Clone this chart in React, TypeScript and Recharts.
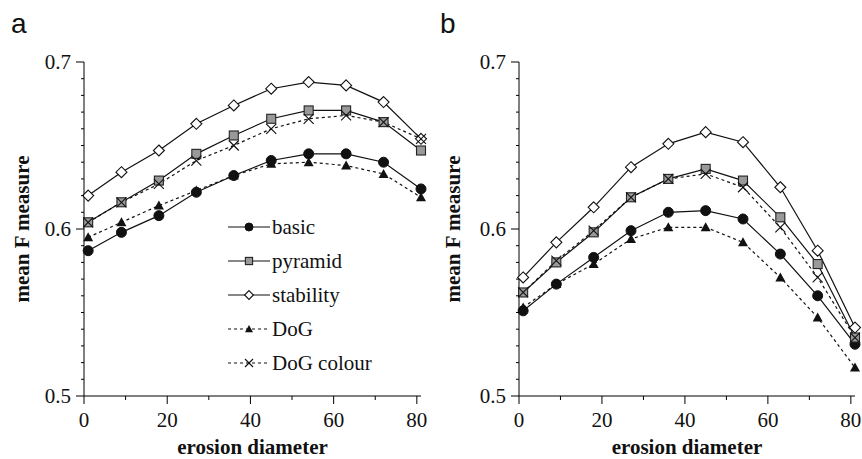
import { Legend, Line, LineChart, XAxis, YAxis } from "recharts";

// erosion diameter sampled at these points
const EROSION = [1, 9, 18, 27, 36, 45, 54, 63, 72, 81];

// panel a
const A_BASIC = [0.587, 0.598, 0.608, 0.622, 0.632, 0.641, 0.645, 0.645, 0.64, 0.624];
const A_PYRAMID = [0.604, 0.616, 0.629, 0.645, 0.656, 0.666, 0.671, 0.671, 0.664, 0.647];
const A_STABILITY = [0.62, 0.634, 0.647, 0.663, 0.674, 0.684, 0.688, 0.686, 0.676, 0.654];
const A_DOG = [0.595, 0.604, 0.614, 0.623, 0.632, 0.639, 0.64, 0.638, 0.633, 0.619];
const A_DOG_COLOUR = [0.604, 0.616, 0.627, 0.641, 0.65, 0.66, 0.666, 0.668, 0.664, 0.654];

// panel b
const B_BASIC = [0.551, 0.567, 0.583, 0.599, 0.61, 0.611, 0.606, 0.585, 0.56, 0.531];
const B_PYRAMID = [0.562, 0.58, 0.598, 0.619, 0.63, 0.636, 0.629, 0.607, 0.579, 0.535];
const B_STABILITY = [0.571, 0.592, 0.613, 0.637, 0.651, 0.658, 0.652, 0.625, 0.587, 0.541];
const B_DOG = [0.553, 0.567, 0.579, 0.594, 0.601, 0.601, 0.592, 0.571, 0.547, 0.517];
const B_DOG_COLOUR = [0.562, 0.581, 0.599, 0.619, 0.63, 0.633, 0.625, 0.601, 0.571, 0.535];

const SERIES_NAMES = ["basic", "pyramid", "stability", "DoG", "DoG colour"];

const X_TICKS = [0, 10, 20, 30, 40, 50, 60, 70, 80];
const Y_TICKS = [
  0.5, 0.51, 0.52, 0.53, 0.54, 0.55, 0.56, 0.57, 0.58, 0.59, 0.6, 0.61, 0.62, 0.63, 0.64, 0.65, 0.66,
  0.67, 0.68, 0.69, 0.7,
];

const SERIF = "Liberation Serif, serif";
const SANS = "Liberation Sans, sans-serif";
const FS = 21;

type Shape = "circle" | "square" | "diamond" | "triangle" | "cross";

const STYLE: Record<string, { shape: Shape; dashed: boolean }> = {
  basic: { shape: "circle", dashed: false },
  pyramid: { shape: "square", dashed: false },
  stability: { shape: "diamond", dashed: false },
  DoG: { shape: "triangle", dashed: true },
  "DoG colour": { shape: "cross", dashed: true },
};

function Marker({ shape, cx, cy, s }: { shape: Shape; cx: number; cy: number; s: number }) {
  if (shape === "circle") return <circle cx={cx} cy={cy} r={s * 0.5} fill="#111" stroke="#111" />;
  if (shape === "square")
    return <rect x={cx - s * 0.45} y={cy - s * 0.45} width={s * 0.9} height={s * 0.9} fill="#999" stroke="#222" strokeWidth={1.1} />;
  if (shape === "diamond") {
    const h = s * 0.55;
    return (
      <polygon
        points={`${cx},${cy - h} ${cx + h},${cy} ${cx},${cy + h} ${cx - h},${cy}`}
        fill="#fff"
        stroke="#111"
        strokeWidth={1.1}
      />
    );
  }
  if (shape === "triangle") {
    const h = s * 0.5;
    return <polygon points={`${cx},${cy - h} ${cx + h},${cy + h * 0.8} ${cx - h},${cy + h * 0.8}`} fill="#111" />;
  }
  const h = s * 0.5;
  return (
    <g stroke="#111" strokeWidth={1.1}>
      <line x1={cx - h} y1={cy - h} x2={cx + h} y2={cy + h} />
      <line x1={cx - h} y1={cy + h} x2={cx + h} y2={cy - h} />
    </g>
  );
}

const makeDot = (shape: Shape) => (p: any) => {
  if (p.cx == null || p.cy == null) return <g key={p.index} />;
  return (
    <g key={p.index}>
      <Marker shape={shape} cx={p.cx} cy={p.cy} s={10} />
    </g>
  );
};

function XTick({ x, y, payload }: any) {
  const v = payload.value;
  const major = v % 20 === 0;
  return (
    <g>
      <line x1={x} x2={x} y1={y} y2={y + (major ? 8 : 4)} stroke="#000" />
      {major && (
        <text x={x} y={y + 31} textAnchor="middle" fontFamily={SERIF} fontSize={FS} fill="#111">
          {v}
        </text>
      )}
    </g>
  );
}

function YTick({ x, y, payload }: any) {
  const v = payload.value;
  const major = Math.abs(v * 10 - Math.round(v * 10)) < 1e-6;
  return (
    <g>
      <line x1={x - (major ? 8 : 3)} x2={x} y1={y} y2={y} stroke="#000" />
      {major && (
        <text x={x - 13} y={y + 6.5} textAnchor="end" fontFamily={SERIF} fontSize={FS} fill="#111">
          {v.toFixed(1)}
        </text>
      )}
    </g>
  );
}

function LegendContent({ payload }: any) {
  const items = [...(payload || [])].sort(
    (a: any, b: any) => SERIES_NAMES.indexOf(a.value) - SERIES_NAMES.indexOf(b.value)
  );
  return (
    <div style={{ fontFamily: SERIF, fontSize: FS, color: "#111" }}>
      {items.map((entry: any) => {
        const st = STYLE[entry.value];
        return (
          <div key={entry.value} style={{ display: "flex", alignItems: "center", height: 34 }}>
            <svg width={44} height={20} style={{ display: "block" }}>
              <line x1={0} x2={42} y1={10} y2={10} stroke="#111" strokeWidth={1.1} strokeDasharray={st.dashed ? "3 3" : undefined} />
              <Marker shape={st.shape} cx={21} cy={10} s={8} />
            </svg>
            <span style={{ lineHeight: "20px" }}>{entry.value}</span>
          </div>
        );
      })}
    </div>
  );
}

function Panel({
  series,
  plotLeft,
  rightMargin,
  showLegend,
}: {
  series: number[][];
  plotLeft: number;
  rightMargin: number;
  showLegend: boolean;
}) {
  const rows = EROSION.map((e, i) => {
    const r: Record<string, number> = { erosion: e };
    SERIES_NAMES.forEach((n, k) => (r[n] = series[k][i]));
    return r;
  });
  return (
    <LineChart width={431} height={459} data={rows} margin={{ top: 62, right: rightMargin, bottom: 0, left: 0 }}>
      <XAxis
        dataKey="erosion"
        type="number"
        domain={[0, 81]}
        ticks={X_TICKS}
        interval={0}
        height={63}
        tickSize={0}
        tickMargin={0}
        tickLine={false}
        axisLine={{ stroke: "#000" }}
        tick={<XTick />}
        label={{
          content: ({ viewBox }: any) => (
            <text
              x={viewBox.x + viewBox.width / 2}
              y={viewBox.y + 58}
              textAnchor="middle"
              fontFamily={SERIF}
              fontWeight="bold"
              fontSize={FS}
              fill="#111"
            >
              erosion diameter
            </text>
          ),
        }}
      />
      <YAxis
        type="number"
        domain={[0.5, 0.7]}
        ticks={Y_TICKS}
        interval={0}
        width={plotLeft}
        tickSize={0}
        tickMargin={0}
        tickLine={false}
        axisLine={{ stroke: "#000" }}
        tick={<YTick />}
        label={{
          content: ({ viewBox }: any) => {
            const cx = 28.5;
            const cy = viewBox.y + viewBox.height / 2;
            return (
              <text
                x={cx}
                y={cy}
                transform={`rotate(-90, ${cx}, ${cy})`}
                textAnchor="middle"
                fontFamily={SERIF}
                fontWeight="bold"
                fontSize={FS}
                fill="#111"
              >
                mean F measure
              </text>
            );
          },
        }}
      />
      {showLegend && (
        <Legend
          layout="vertical"
          align="center"
          verticalAlign="middle"
          content={<LegendContent />}
          wrapperStyle={{ left: 228, top: 210, width: "auto" }}
        />
      )}
      {SERIES_NAMES.map((n) => (
        <Line
          key={n}
          dataKey={n}
          name={n}
          type="linear"
          stroke="#111"
          strokeWidth={1.2}
          strokeDasharray={STYLE[n].dashed ? "3 3" : undefined}
          dot={makeDot(STYLE[n].shape)}
          activeDot={false}
          legendType="line"
          isAnimationActive={false}
        />
      ))}
    </LineChart>
  );
}

export default function App() {
  return (
    <div style={{ position: "absolute", left: 0, top: 0, width: 862, height: 459, background: "#fff" }}>
      <div style={{ position: "absolute", left: 0, top: 0 }}>
        <Panel
          series={[A_BASIC, A_PYRAMID, A_STABILITY, A_DOG, A_DOG_COLOUR]}
          plotLeft={84}
          rightMargin={10}
          showLegend
        />
      </div>
      <div style={{ position: "absolute", left: 431, top: 0 }}>
        <Panel
          series={[B_BASIC, B_PYRAMID, B_STABILITY, B_DOG, B_DOG_COLOUR]}
          plotLeft={88}
          rightMargin={7}
          showLegend={false}
        />
      </div>
      <svg width={862} height={50} style={{ position: "absolute", left: 0, top: 0, pointerEvents: "none" }}>
        <text x={11} y={33} fontFamily={SANS} fontSize={28} fill="#111">
          a
        </text>
        <text x={440} y={33} fontFamily={SANS} fontSize={28} fill="#111">
          b
        </text>
      </svg>
    </div>
  );
}
